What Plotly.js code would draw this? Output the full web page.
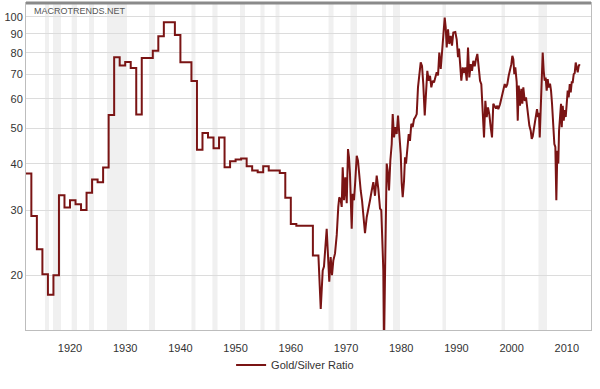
<!DOCTYPE html>
<html>
<head>
<meta charset="utf-8">
<script src="https://cdn.plot.ly/plotly-3.0.1.min.js"></script>
<style>
html,body{margin:0;padding:0;background:#fff;}
#chart{width:600px;height:389px;}
</style>
</head>
<body>
<div id="chart"></div>
<script>
// Annual values (step line), year -> ratio held until next year
const annualYears = [1912,1913,1914,1915,1916,1917,1918,1919,1920,1921,1922,1923,1924,1925,1926,1927,1928,1929,1930,1931,1932,1933,1934,1935,1936,1937,1938,1939,1940,1941,1942,1943,1944,1945,1946,1947,1948,1949,1950,1951,1952,1953,1954,1955,1956,1957,1958,1959,1960,1961,1962,1963,1964];
const annualRatio = [37.7,28.9,23.5,20.1,17.7,20.0,32.9,30.5,31.9,31.1,30.0,33.4,36.3,35.7,39.1,54.3,77.8,73.9,75.5,72.7,54.4,77.4,77.4,81.0,88.7,96.8,96.8,89.4,75.4,75.4,67.1,43.7,48.5,47.2,44.1,47.2,39.2,40.7,41.1,41.4,39.4,38.4,38.0,39.4,38.4,38.4,37.8,32.4,27.5,27.2,27.2,27.2,22.6];

// Finer-grained values from 1965 on
const monthYears = [1965.0,1965.42,1965.78,1966.01,1966.50,1966.97,1967.22,1967.46,1967.70,1968.01,
1968.32,1968.60,1968.78,1969.04,1969.22,1969.40,1969.64,1969.87,1970.13,1970.36,
1970.54,1970.72,1970.91,1971.03,1971.21,1971.45,1971.68,1971.94,1972.17,1972.41,
1972.66,1972.90,1973.13,1973.44,1973.75,1974.04,1974.35,1974.66,1974.95,1975.25,
1975.56,1975.85,1976.16,1976.39,1976.58,1976.76,1976.88,1977.07,1977.19,1977.37,
1977.55,1977.79,1978.03,1978.28,1978.46,1978.70,1978.93,1979.18,1979.42,1979.66,
1979.91,1980.09,1980.27,1980.51,1980.69,1980.87,1981.10,1981.36,1981.59,1981.83,
1982.08,1982.32,1982.55,1982.81,1983.04,1983.28,1983.53,1983.77,1984.00,1984.26,
1984.49,1984.73,1984.98,1985.22,1985.45,1985.71,1985.94,1986.18,1986.43,1986.67,
1986.90,1987.16,1987.39,1987.63,1987.88,1988.06,1988.24,1988.48,1988.71,1988.97,
1989.20,1989.44,1989.80,1990.05,1990.29,1990.47,1990.65,1990.89,1991.14,1991.38,
1991.61,1991.87,1992.10,1992.34,1992.59,1992.83,1993.06,1993.32,1993.55,1993.79,
1994.04,1994.28,1994.51,1994.76,1995.00,1995.24,1995.49,1995.72,1995.96,1996.21,
1996.45,1996.68,1996.94,1997.17,1997.41,1997.59,1997.90,1998.20,1998.50,1998.75,
1998.98,1999.22,1999.47,1999.71,1999.95,2000.13,2000.31,2000.49,2000.67,2000.92,
2001.11,2001.29,2001.52,2001.76,2001.94,2002.12,2002.37,2002.61,2002.84,2003.02,
2003.21,2003.46,2003.64,2003.82,2004.06,2004.24,2004.42,2004.60,2004.78,2004.96,
2005.09,2005.27,2005.45,2005.63,2005.81,2005.99,2006.17,2006.35,2006.54,2006.72,
2006.96,2007.14,2007.32,2007.55,2007.74,2007.92,2008.10,2008.28,2008.46,2008.59,
2008.77,2008.95,2009.08,2009.26,2009.44,2009.62,2009.80,2009.98,2010.16,2010.34,
2010.53,2010.71,2010.89,2011.07,2011.25,2011.43,2011.61,2011.79,2011.97,2012.16,
2012.34];
const monthRatio = [22.6,16.2,20.6,21.1,26.7,19.2,22.4,20.0,21.9,22.9,
25.7,30.6,32.5,31.9,30.6,39.2,31.9,36.8,31.3,43.9,
41.7,37.6,32.5,26.7,33.2,31.9,36.0,42.1,40.8,36.8,
33.9,31.9,28.7,26.0,28.7,30.6,31.9,33.9,35.7,32.8,
37.2,34.3,30.3,30.0,22.9,20.6,13.0,19.0,23.8,40.1,
38.4,33.9,40.8,45.3,54.6,47.2,50.3,48.2,54.1,47.2,
42.6,35.4,32.5,36.0,41.7,40.1,43.4,48.2,46.2,51.4,
50.3,52.9,53.5,54.6,64.5,70.0,75.3,73.7,65.8,54.1,
64.5,71.5,67.2,69.3,64.5,67.2,66.5,68.6,70.8,69.5,
80.1,72.3,79.4,91.7,99.6,93.6,82.7,92.6,84.5,88.9,
83.6,90.7,91.0,87.0,77.8,82.1,73.7,67.2,73.0,70.5,
73.0,67.2,82.7,68.6,74.5,71.5,76.1,73.5,76.9,79.4,
73.0,67.2,65.8,56.9,47.2,59.3,53.6,56.9,54.5,50.3,
47.2,58.2,57.0,56.5,57.5,56.3,58.0,60.6,62.5,65.8,
64.5,65.8,69.3,71.5,74.5,78.5,76.9,70.0,73.0,66.6,
52.4,65.2,57.5,63.9,58.2,64.5,59.3,60.6,55.7,52.4,
50.8,49.2,46.8,47.5,50.3,51.8,55.1,56.3,53.6,55.0,
47.2,55.7,64.5,80.1,71.5,67.2,68.5,63.2,67.9,64.5,
66.0,63.2,58.2,52.4,45.3,44.5,31.9,43.4,40.1,49.2,
53.6,58.2,50.3,57.5,52.4,56.0,53.6,59.3,63.2,60.6,
65.8,62.5,66.6,66.6,70.0,70.5,75.3,73.0,70.8,73.7,
74.5];

// Shaded bands (start, end) in axis years
const bandStart = [1915.47,1916.92,1920.30,1923.44,1926.70,1934.31,1942.00,1945.80,1950.80,1954.51,1957.23,1966.83,1970.81,1976.52,1978.51,1987.48,1998.17,2004.87];
const bandEnd   = [1916.20,1918.37,1921.27,1924.35,1930.33,1935.40,1942.73,1946.72,1951.70,1955.24,1957.95,1967.74,1971.99,1977.25,1979.78,1988.12,1998.80,2006.41];

const xTickVals = [1920,1930,1940,1950,1960,1970,1980,1990,2000,2010];
const yTickVals = [20,30,40,50,60,70,80,90,100];
const seriesName = 'Gold/Silver Ratio';

// build step coordinates for annual part
const xs = [], ys = [];
for (let i = 0; i < annualYears.length; i++) {
  const next = (i + 1 < annualYears.length) ? annualYears[i + 1] : monthYears[0];
  xs.push(annualYears[i], next);
  ys.push(annualRatio[i], annualRatio[i]);
}
for (let i = 0; i < monthYears.length; i++) { xs.push(monthYears[i]); ys.push(monthRatio[i]); }

const shapes = bandStart.map((s, i) => ({
  type: 'rect', xref: 'x', yref: 'paper', x0: s, x1: bandEnd[i], y0: 0, y1: 1,
  fillcolor: '#f0f0f0', line: {width: 0}, layer: 'below'
}));
shapes.push({type: 'line', xref: 'paper', yref: 'paper', x0: 0, x1: 1, y0: 1, y1: 1,
  line: {color: '#8a8a8a', width: 3}, layer: 'above'});

const font = {family: '"Liberation Sans", Arial, sans-serif', size: 11, color: '#333'};

const data = [{
  x: xs, y: ys, type: 'scatter', mode: 'lines', name: seriesName,
  line: {color: '#7a1414', width: 2}, showlegend: true
}];

const layout = {
  width: 600, height: 389,
  margin: {l: 26, r: 9, t: 3, b: 59},
  paper_bgcolor: '#fff', plot_bgcolor: '#fff',
  font: font,
  showlegend: true,
  legend: {orientation: 'h', x: 0.363, xanchor: 'left', y: -0.107, yanchor: 'middle',
    font: font, bgcolor: 'rgba(0,0,0,0)'},
  xaxis: {
    range: [1912.03, 2014.38], tickvals: xTickVals, ticktext: xTickVals.map(String),
    showgrid: false, zeroline: false, showline: true, linecolor: '#bdbdbd', linewidth: 1,
    mirror: true, ticks: 'outside', ticklen: 8, tickcolor: 'rgba(0,0,0,0)', tickfont: font
  },
  yaxis: {
    type: 'log', range: [1.1525, 2.0378], tickvals: yTickVals, ticktext: yTickVals.map(String),
    showgrid: true, gridcolor: '#dcdcdc', gridwidth: 1, zeroline: false,
    showline: true, linecolor: '#bdbdbd', linewidth: 1, mirror: true,
    ticks: '', tickfont: font
  },
  shapes: shapes,
  annotations: [{
    text: 'MACROTRENDS.NET', xref: 'paper', yref: 'paper', x: 0.0106, y: 0.9756,
    xanchor: 'left', yanchor: 'middle', showarrow: false,
    font: {family: '"Liberation Sans", Arial, sans-serif', size: 9, color: '#555'}
  }]
};

Plotly.newPlot('chart', data, layout, {displayModeBar: false, staticPlot: true});
</script>
</body>
</html>
